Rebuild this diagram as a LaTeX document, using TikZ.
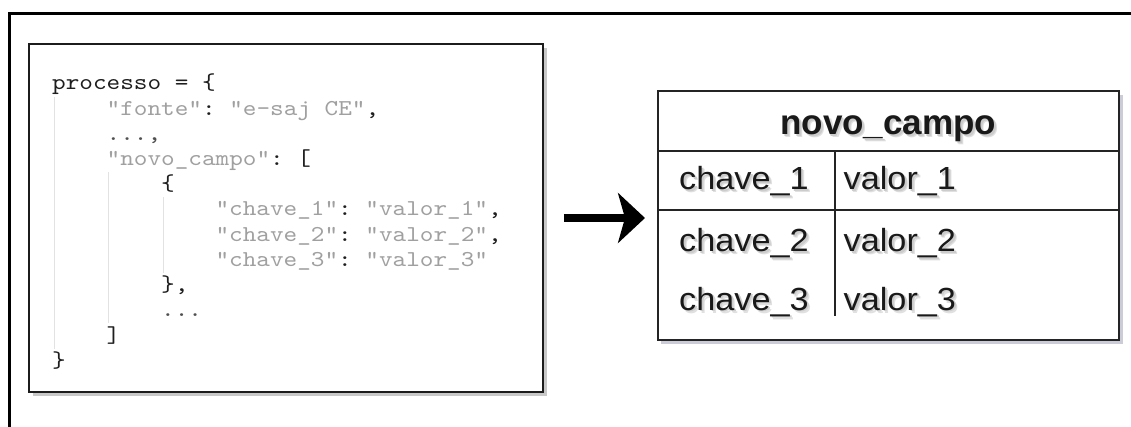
\documentclass[tikz,border=0pt]{standalone}
\usepackage{fontspec}
\setmonofont[FakeStretch=1.143]{lmmono10-regular.otf}
\newfontfamily\tabfont[FakeStretch=1.07]{Liberation Sans}
\newfontfamily\headfont{Liberation Sans}
\usetikzlibrary{arrows.meta}

\definecolor{codedark}{HTML}{1E1E1E}
\definecolor{strgray}{HTML}{A0A0A0}
\definecolor{dotgray}{HTML}{505050}
\definecolor{guidegray}{HTML}{E2E2E2}
\definecolor{boxline}{HTML}{1C1C1C}
\definecolor{tabline}{HTML}{242424}
\definecolor{tabshadow}{RGB}{204,204,216}
\definecolor{codeshadow}{RGB}{200,200,200}

% gray string literal inside the code listing
\newcommand\strlit[1]{\textcolor{strgray}{#1}}
% text with a soft drop shadow towards the lower right
\newcommand\softshadow[1]{\leavevmode
  \rlap{\kern3pt\raisebox{-3pt}{\color{black!12}#1}}%
  \rlap{\kern1.8pt\raisebox{-1.8pt}{\color{black!20}#1}}%
  #1}

\begin{document}
\begin{tikzpicture}[x=1pt,y=-1pt,
  codeline/.style={anchor=base west,inner sep=0pt,text=codedark,
    font=\ttfamily\fontsize{22.7}{25}\selectfont},
  guide/.style={draw=guidegray,line width=1pt},
  cell/.style={anchor=base west,inner sep=0pt,text=black!90,
    font=\tabfont\fontsize{32}{36}\selectfont},
  framebar/.style={line width=3pt,draw=black,line join=miter},
  flowarrow/.style={line width=8pt,draw=black,
    -{Stealth[length=27pt,width=50pt,inset=7pt]}},
]
\useasboundingbox (0,0) rectangle (1131,427);

% outer frame (left and top bars)
\draw[framebar] (9.5,427) -- (9.5,13.5) -- (1131,13.5);

% ---------- code listing ----------
\fill[codeshadow] (33,48) rectangle (547,396);
\node[draw=boxline,line width=1.5pt,fill=white,minimum width=514pt,
  minimum height=348pt,inner sep=0pt] (code) at (286,218) {};

% indentation guides
\draw[guide] (54.3,97) -- (54.3,349);
\draw[guide] (108.6,172) -- (108.6,323);
\draw[guide] (163.8,197) -- (163.8,273);

\node[codeline] (l0)  at (52,90)     {processo = \{};
\node[codeline] (l1)  at (106.5,115.2) {\strlit{"fonte"}: \strlit{"e-saj CE"},};
\node[codeline,text=dotgray] (l2) at (106.5,140.4) {...,};
\node[codeline] (l3)  at (106.5,165.6) {\strlit{"novo\_campo"}: [};
\node[codeline] (l4)  at (161,190.8) {\{};
\node[codeline] (l5)  at (215.4,216) {\strlit{"chave\_1"}: \strlit{"valor\_1"},};
\node[codeline] (l6)  at (215.4,241.2) {\strlit{"chave\_2"}: \strlit{"valor\_2"},};
\node[codeline] (l7)  at (215.4,266.4) {\strlit{"chave\_3"}: \strlit{"valor\_3"}};
\node[codeline] (l8)  at (161,291.6) {\},};
\node[codeline,text=dotgray] (l9) at (161,316.8) {...};
\node[codeline] (l10) at (106.5,342) {]};
\node[codeline] (l11) at (52,367.2)  {\}};

% ---------- table ----------
\fill[tabshadow] (661,95) rectangle (1122.5,343.5);
\node[draw=tabline,line width=2pt,fill=white,minimum width=461.5pt,
  minimum height=248.5pt,inner sep=0pt] (tbl) at (888.25,215.75) {};

\coordinate (hl) at (657.5,150.7);
\coordinate (hr) at (1119,150.7);
\coordinate (rl) at (657.5,210);
\coordinate (rr) at (1119,210);
\coordinate (vt) at (835,150.7);
\coordinate (vb) at (835,316);
\draw[tabline,line width=2pt] (hl) -- (hr);
\draw[tabline,line width=2pt] (rl) -- (rr);
\draw[tabline,line width=2pt] (vt) -- (vb);

\node[anchor=base,inner sep=0pt,text=black!90,
  font=\headfont\bfseries\fontsize{35}{40}\selectfont] (head) at (888.25,135)
  {\softshadow{novo\_campo}};
\node[cell] (k1) at (679,190)   {\softshadow{chave\_1}};
\node[cell] (v1) at (843.5,190) {\softshadow{valor\_1}};
\node[cell] (k2) at (679,251.7)   {\softshadow{chave\_2}};
\node[cell] (v2) at (843.5,251.7) {\softshadow{valor\_2}};
\node[cell] (k3) at (679,310)   {\softshadow{chave\_3}};
\node[cell] (v3) at (843.5,310) {\softshadow{valor\_3}};

% ---------- arrow from listing to table ----------
\draw[flowarrow,shorten <=20pt,shorten >=11.5pt] (code.east) -- (code.east -| tbl.west);
\end{tikzpicture}
\end{document}
